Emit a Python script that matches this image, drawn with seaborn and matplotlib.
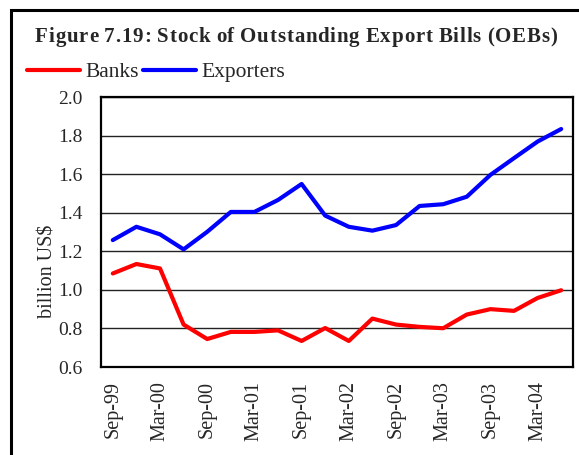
import matplotlib
matplotlib.use("Agg")
import matplotlib.pyplot as plt
import seaborn as sns
import pandas as pd
from matplotlib.patches import Rectangle
from matplotlib.lines import Line2D

quarters = ["Sep-99", "Dec-99", "Mar-00", "Jun-00", "Sep-00", "Dec-00", "Mar-01", "Jun-01",
            "Sep-01", "Dec-01", "Mar-02", "Jun-02", "Sep-02", "Dec-02", "Mar-03", "Jun-03",
            "Sep-03", "Dec-03", "Mar-04", "Jun-04"]
banks = [1.085, 1.134, 1.111, 0.820, 0.745, 0.782, 0.782, 0.790, 0.735, 0.802,
         0.735, 0.851, 0.820, 0.808, 0.801, 0.872, 0.900, 0.891, 0.958, 0.998]
exporters = [1.258, 1.327, 1.288, 1.210, 1.301, 1.404, 1.404, 1.466, 1.549, 1.385,
             1.327, 1.307, 1.336, 1.435, 1.444, 1.483, 1.596, 1.683, 1.769, 1.834]
yticks = [0.6, 0.8, 1.0, 1.2, 1.4, 1.6, 1.8, 2.0]
title = "Figure 7.19: Stock of Outstanding Export Bills (OEBs)"

sns.set_style("white")
plt.rcParams['font.family'] = ['Liberation Serif', 'DejaVu Serif']

df = pd.DataFrame({
    "pos": list(range(len(quarters))) * 2,
    "value": banks + exporters,
    "series": ["Banks"] * len(quarters) + ["Exporters"] * len(quarters),
})

W, H = 579, 455
fig = plt.figure(figsize=(W / 100, H / 100), dpi=100)
ax = fig.add_axes([101 / W, 1 - 367 / H, (573 - 101) / W, (367 - 97) / H])

sns.lineplot(data=df, x="pos", y="value", hue="series",
             palette={"Banks": "#ff0000", "Exporters": "#0000ff"},
             linewidth=3, ax=ax, legend=False)

ax.set_xlim(-0.5, len(quarters) - 0.5)
ax.set_ylim(0.6, 2.0)
ax.set_yticks(yticks)
ax.set_yticklabels([f"{v:.1f}" for v in yticks], fontsize=14)
ax.yaxis.grid(True, color="#222222", linewidth=1)
ax.set_axisbelow(True)
ax.tick_params(axis="y", length=0, pad=13)

ax.set_xticks(list(range(0, len(quarters), 2)))
ax.set_xticklabels(quarters[::2], rotation=90, fontsize=14.5)
ax.set_xticks([i - 0.5 for i in range(len(quarters) + 1)], minor=True)
ax.tick_params(axis="x", which="major", length=0, pad=10)
ax.tick_params(axis="x", which="minor", length=5, width=1, direction="out", color="black")

ax.set_xlabel("")
ax.set_ylabel("billion US$", fontsize=14.5)
ax.yaxis.set_label_coords((58 - 101) / 472, (367 - 271) / 270)
for s in ax.spines.values():
    s.set_color("black")
    s.set_linewidth(1.6)

# letter-spaced bold title
fig.canvas.draw()
renderer = fig.canvas.get_renderer()
x0, x1 = 35, 557
ty = 1 - 37 / H
widths = []
pieces = []
for ch in title:
    t = fig.text(0, ty, ch if ch != " " else "\u00a0", fontsize=15, fontweight="bold",
                 ha="left", va="center")
    pieces.append(t)
    if ch == " ":
        widths.append(4.5)
    else:
        widths.append(t.get_window_extent(renderer).width)
extra = max(0.0, (x1 - x0 - sum(widths)) / (len(title) - 1))
x = x0
for t, w in zip(pieces, widths):
    t.set_x(x / W)
    x += w + extra

handles = [Line2D([0], [0], color="#ff0000", lw=3), Line2D([0], [0], color="#0000ff", lw=3)]
fig.legend(handles, ["Banks", "Exporters"], loc="center left",
           bbox_to_anchor=(27 / W, 1 - 72 / H), ncol=2, frameon=False, fontsize=15.5,
           handlelength=2.45, handletextpad=0.25, columnspacing=0.2, borderaxespad=0,
           borderpad=0)

fig.add_artist(Rectangle((11 / W, -0.1), 1.2, 1 - 10 / H + 0.1, transform=fig.transFigure,
                         fill=False, edgecolor="black", linewidth=2.2))

fig.savefig("out.png", dpi=100)
